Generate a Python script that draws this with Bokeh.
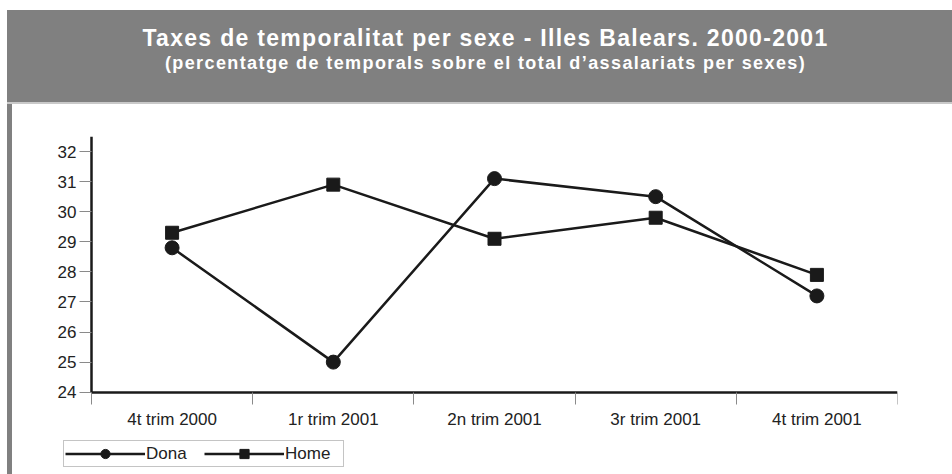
from bokeh.plotting import figure
from bokeh.models import (Range1d, FixedTicker, Legend, LegendItem, Div)
from bokeh.layouts import column, row
from bokeh.embed import file_html
from bokeh.resources import INLINE

# ---- data ----
categories = ["4t trim 2000", "1r trim 2001", "2n trim 2001", "3r trim 2001", "4t trim 2001"]
dona = [28.8, 25.0, 31.1, 30.5, 27.2]
home = [29.3, 30.9, 29.1, 29.8, 27.9]
y_ticks = [24, 25, 26, 27, 28, 29, 30, 31, 32]
title_text = "Taxes de temporalitat per sexe - Illes Balears. 2000-2001"
subtitle_text = "(percentatge de temporals sobre el total d\u2019assalariats per sexes)"

xs = [i + 0.5 for i in range(len(categories))]
GRAY = "#808080"
INK = "#1a1a1a"
FONT = "Liberation Sans"

title_html = (
    '<div style="width:945px;padding-top:14px;padding-left:12px;box-sizing:border-box;'
    'text-align:center;color:white;font-family:\'Liberation Sans\',sans-serif;font-weight:bold;">'
    f'<div style="font-size:23px;line-height:28px;letter-spacing:1.3px;">{title_text}</div>'
    f'<div style="font-size:18px;line-height:22px;letter-spacing:1.4px;">{subtitle_text}</div>'
    '</div>'
)
title_div = Div(text=title_html, width=945, height=94, margin=0,
                styles={"background-color": GRAY,
                        "border-bottom": "2px solid #c9c9c9", "box-sizing": "border-box"})
bar_div = Div(text="", width=5, height=370, margin=0, styles={"background-color": GRAY})

# plot frame covers the whole white panel; axes are pinned inside it
PX_X = 161.2   # pixels per category
PX_Y = 30.08   # pixels per percentage point
x_start = -79 / PX_X
y_start = 24 - 82.3 / PX_Y

p = figure(width=940, height=370, output_backend="svg", toolbar_location=None,
           x_range=Range1d(x_start, 5), y_range=Range1d(y_start, 32.5), margin=0,
           min_border_left=0, min_border_right=55, min_border_top=32,
           min_border_bottom=0)
p.outline_line_color = None
p.xgrid.grid_line_color = None
p.ygrid.grid_line_color = None
p.background_fill_color = "white"
p.border_fill_color = "white"

# y axis
p.yaxis.fixed_location = 0
p.yaxis.bounds = (24, 32.5)
p.yaxis.ticker = FixedTicker(ticks=y_ticks)
p.yaxis.axis_line_width = 2.5
p.yaxis.axis_line_color = INK
p.yaxis.major_tick_out = 12
p.yaxis.major_tick_in = 0
p.yaxis.major_tick_line_color = "#8a8a8a"
p.yaxis.minor_tick_line_color = None
p.yaxis.major_label_standoff = 3
p.yaxis.major_label_text_font = FONT
p.yaxis.major_label_text_font_size = "17px"
p.yaxis.major_label_text_color = "#222222"

# x axis: labels at centres, tick marks at boundaries
p.xaxis.fixed_location = 24
p.xaxis.bounds = (0, 5)
p.xaxis.ticker = FixedTicker(ticks=xs, minor_ticks=list(range(len(categories) + 1)))
p.xaxis.major_label_overrides = {x: c for x, c in zip(xs, categories)}
p.xaxis.axis_line_width = 2.5
p.xaxis.axis_line_color = INK
p.xaxis.major_tick_out = 0
p.xaxis.major_tick_in = 0
p.xaxis.minor_tick_out = 12
p.xaxis.minor_tick_in = 0
p.xaxis.minor_tick_line_color = "#8a8a8a"
p.xaxis.major_label_standoff = 6
p.xaxis.major_label_text_font = FONT
p.xaxis.major_label_text_font_size = "17px"
p.xaxis.major_label_text_color = "#222222"

l1 = p.line(xs, dona, line_width=2.5, line_color=INK)
s1 = p.scatter(xs, dona, marker="circle", size=14, fill_color=INK, line_color=INK)
l2 = p.line(xs, home, line_width=2.5, line_color=INK)
s2 = p.scatter(xs, home, marker="square", size=13, fill_color=INK, line_color=INK)

legend = Legend(items=[LegendItem(label="Dona", renderers=[l1, s1]),
                       LegendItem(label="Home", renderers=[l2, s2])],
                location=(51, 7), orientation="horizontal",
                glyph_width=80, glyph_height=23, label_standoff=1, spacing=1,
                padding=1, margin=0, label_width=57,
                border_line_color="#8a8a8a", border_line_width=1,
                background_fill_alpha=1.0,
                label_text_font=FONT, label_text_font_size="17px",
                label_text_color="#222222")
p.add_layout(legend, "center")

layout = column(title_div, row(bar_div, p, spacing=0, margin=0), spacing=0,
                margin=(10, 0, 0, 7))

open("out.html", "w").write(file_html(layout, INLINE))
